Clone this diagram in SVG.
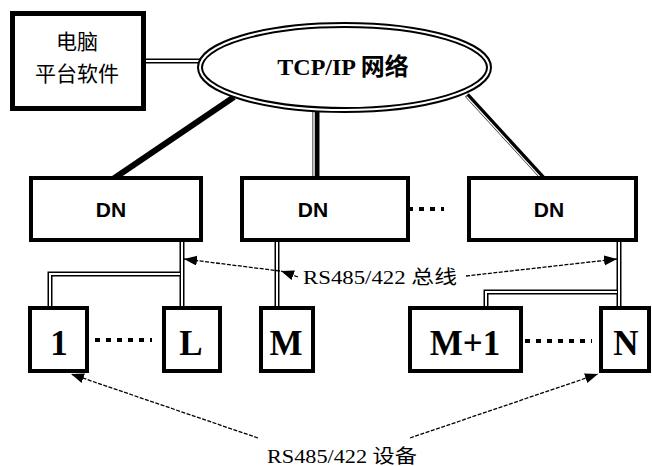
<svg xmlns="http://www.w3.org/2000/svg" width="652" height="466" viewBox="0 0 652 466">
<style>
.box{fill:#fff;stroke:#000;stroke-width:4}
.dn{font-family:"Liberation Sans",Arial,sans-serif;font-weight:bold;font-size:21px;text-anchor:middle}
.dev{font-family:"Liberation Serif","Times New Roman",serif;font-weight:bold;font-size:35px;text-anchor:middle}
.cjk{font-family:"Noto Sans CJK SC",sans-serif;font-size:21px;text-anchor:middle}
.lbl{font-family:"Liberation Serif","Noto Sans CJK SC",serif;font-size:19px}
.dblb{fill:none;stroke:#000;stroke-width:5}
.dblw{fill:none;stroke:#fff;stroke-width:2}
.dots{fill:none;stroke:#000;stroke-width:4;stroke-dasharray:5 6}
.arr{fill:none;stroke:#000;stroke-width:1.3;stroke-dasharray:4 1.5;marker-end:url(#ah)}
</style>
<defs>
<marker id="ah" markerUnits="userSpaceOnUse" markerWidth="14" markerHeight="11" refX="13" refY="5" orient="auto">
<path d="M0,0 L13,5 L0,10 z" fill="#000"/>
</marker>
</defs>
<rect width="652" height="466" fill="#fff"/>

<g id="connectors">
<!-- PC to network -->
<path class="dblb" d="M146,61 H201"/>
<path class="dblw" d="M146,61 H201"/>
<!-- network to DN -->
<path d="M234,97 L113,179" stroke="#000" stroke-width="6" fill="none"/>
<path d="M316,110 V178" stroke="#000" stroke-width="7" fill="none"/>
<path d="M314,110 V178" stroke="#fff" stroke-width="1.5" fill="none"/>
<path d="M467,95 L543,178" stroke="#000" stroke-width="5" fill="none"/>
<path d="M466.5,96.5 L542.5,179.5" stroke="#fff" stroke-width="1.2" fill="none"/>
<!-- bus DN1 -->
<path class="dblb" d="M182,240 V308 M182,274 H50 V308"/>
<path class="dblw" d="M182,240 V308 M180,274 H50 V308"/>
<!-- bus DN2 -->
<path class="dblb" d="M277,240 V308"/>
<path class="dblw" d="M277,240 V308"/>
<!-- bus DN3 -->
<path class="dblb" d="M619,240 V308 M619,292 H486 V308"/>
<path class="dblw" d="M619,240 V308 M617,292 H486 V308"/>
<!-- dotted continuations -->
<path class="dots" d="M386,209 H444"/>
<path class="dots" d="M95,340 H152"/>
<path class="dots" d="M525,341 H592"/>
<!-- label arrows -->
<path class="arr" d="M298,277 L281,271"/>
<path class="arr" d="M280,271 L184,259"/>
<path class="arr" d="M466,276 L617,259"/>
<path class="arr" d="M258,438 L71,374"/>
<path class="arr" d="M410,438 L598,374"/>
</g>

<g id="pc">
<rect x="12.5" y="13.5" width="131" height="95" fill="#fff" stroke="#000" stroke-width="5"/>
<text class="cjk" x="77" y="49">电脑</text>
<text class="cjk" x="77" y="81">平台软件</text>
</g>

<g id="network">
<ellipse cx="344.5" cy="67.5" rx="144.5" ry="42.5" fill="#fff" stroke="#000" stroke-width="6"/>
<ellipse cx="344.5" cy="67.5" rx="144.5" ry="42.5" fill="none" stroke="#fff" stroke-width="2"/>
<text x="343" y="75" text-anchor="middle" font-family="Liberation Serif,'Noto Sans CJK SC',serif" font-weight="bold" font-size="24">TCP/IP 网络</text>
</g>

<g id="dn1"><rect class="box" x="31" y="178" width="170" height="62"/><text class="dn" x="111" y="217">DN</text></g>
<g id="dn2"><rect class="box" x="242" y="178" width="166" height="62"/><text class="dn" x="313" y="217">DN</text></g>
<g id="dn3"><rect class="box" x="469" y="178" width="167" height="62"/><text class="dn" x="549" y="217">DN</text></g>

<g id="dev1"><rect class="box" x="30" y="308" width="57" height="63"/><text class="dev" x="59" y="355">1</text></g>
<g id="devL"><rect class="box" x="164" y="308" width="56" height="63"/><text class="dev" x="191" y="355">L</text></g>
<g id="devM"><rect class="box" x="261" y="308" width="52" height="63"/><text class="dev" x="286" y="355">M</text></g>
<g id="devM1"><rect class="box" x="410" y="308" width="111" height="63"/><text class="dev" x="465" y="355">M+1</text></g>
<g id="devN"><rect class="box" x="601" y="308" width="48" height="63"/><text class="dev" x="626" y="355">N</text></g>

<g id="labels">
<text class="lbl" x="303" y="284" textLength="154" lengthAdjust="spacingAndGlyphs">RS485/422 总线</text>
<text class="lbl" x="267" y="463" textLength="150" lengthAdjust="spacingAndGlyphs">RS485/422 设备</text>
</g>
</svg>
